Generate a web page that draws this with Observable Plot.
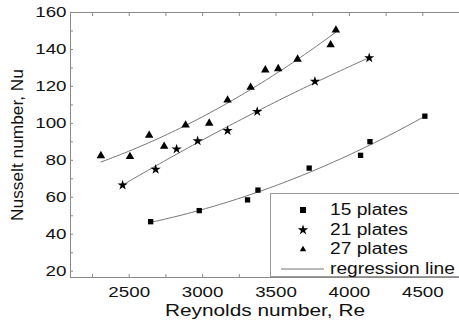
<!DOCTYPE html>
<html><head><meta charset="utf-8">
<script src="https://cdn.jsdelivr.net/npm/d3@7"></script>
<script src="https://cdn.jsdelivr.net/npm/@observablehq/plot@0.6"></script>
<style>
body{margin:0;background:#fff;font-family:"Liberation Sans",Arial,sans-serif;}
#wrap{position:relative;width:459px;height:320px;overflow:hidden;}
#legend{position:absolute;left:270px;top:193px;width:200px;height:84px;border:1px solid #999;background:#fff;box-sizing:border-box;font-size:16px;color:#111;}
#legend .row{position:absolute;left:0;height:20px;line-height:20px;transform:scaleX(1.2);transform-origin:0 50%;white-space:nowrap;}
#legend svg{position:absolute;}
</style></head>
<body><div id="wrap"></div>
<script>
// Data
const re15 = [2646, 2977, 3306, 3377, 3726, 4076, 4140, 4514];
const nu15 = [46.8, 52.8, 58.6, 63.9, 75.8, 82.7, 90.1, 103.9];
const re21 = [2455, 2680, 2823, 2966, 3170, 3372, 3765, 4135];
const nu21 = [66.6, 75.1, 86.1, 90.5, 96.1, 106.4, 122.7, 135.4];
const re27 = [2307, 2505, 2636, 2738, 2884, 3045, 3170, 3327, 3427, 3515, 3647, 3872, 3908];
const nu27 = [82.5, 82.0, 93.5, 87.6, 99.1, 100.1, 112.6, 119.5, 128.9, 129.6, 134.7, 142.5, 150.5];
const seriesNames = ["15 plates", "21 plates", "27 plates"];
const xTicks = [2500, 3000, 3500, 4000, 4500];
const yTicks = [20, 40, 60, 80, 100, 120, 140, 160];

const symbols = {"15 plates": "square", "21 plates": "star", "27 plates": "triangle"};
const sizes = {"15 plates": 4, "21 plates": 4.6, "27 plates": 4.4};
const raw = [[re15, nu15], [re21, nu21], [re27, nu27]];
const points = raw.flatMap(([xs, ys], i) => xs.map((x, j) => ({series: seriesNames[i], re: x, nu: ys[j]})));

// quadratic least-squares regression of each series
function quadFit(xs, ys) {
  const m = d3.mean(xs), s = 1000;
  const u = xs.map(x => (x - m) / s);
  const S = k => d3.sum(u, v => v ** k);
  const T = k => d3.sum(u, (v, i) => v ** k * ys[i]);
  const A = [[S(0), S(1), S(2), T(0)], [S(1), S(2), S(3), T(1)], [S(2), S(3), S(4), T(2)]];
  for (let i = 0; i < 3; i++) {
    for (let r = i + 1; r < 3; r++) {
      const f = A[r][i] / A[i][i];
      for (let c = i; c < 4; c++) A[r][c] -= f * A[i][c];
    }
  }
  const b = [0, 0, 0];
  for (let i = 2; i >= 0; i--) {
    let v = A[i][3];
    for (let c = i + 1; c < 3; c++) v -= A[i][c] * b[c];
    b[i] = v / A[i][i];
  }
  const [x0, x1] = d3.extent(xs);
  return d3.range(0, 61).map(k => {
    const x = x0 + (x1 - x0) * k / 60, t = (x - m) / s;
    return {re: x, nu: b[0] + b[1] * t + b[2] * t * t};
  });
}
const fits = raw.flatMap(([xs, ys], i) => quadFit(xs, ys).map(d => ({...d, series: seriesNames[i]})));

const frameColor = "#8a8a8a";
const chart = Plot.plot({
  width: 459, height: 320,
  marginLeft: 70, marginTop: 12, marginBottom: 43, marginRight: 0,
  style: {fontFamily: "'Liberation Sans', Arial, sans-serif", color: "#111", background: "#fff"},
  x: {domain: [2100, 4750]},
  y: {domain: [16.6, 160]},
  marks: [
    Plot.line(fits, {x: "re", y: "nu", z: "series", stroke: "#777", strokeWidth: 1}),
    Plot.dot(points, {x: "re", y: "nu", symbol: d => symbols[d.series], r: d => sizes[d.series], fill: "#000", stroke: "none"}),
    // frame lines
    Plot.ruleX([2100], {stroke: frameColor}),
    Plot.ruleY([16.6], {stroke: frameColor}),
    Plot.ruleY([160], {stroke: frameColor}),
    // x ticks (inward) bottom & top
    Plot.axisX({ticks: d3.range(2250, 4751, 250), tickSize: -3, stroke: frameColor, text: null, anchor: "bottom", label: null}),
    Plot.axisX({ticks: d3.range(2250, 4751, 250), tickSize: -3, stroke: frameColor, text: null, anchor: "top", label: null}),
    Plot.axisX({ticks: xTicks, tickSize: 0, tickPadding: 9, fontSize: 15, anchor: "bottom", label: "Reynolds number, Re", labelArrow: "none", labelAnchor: "center", labelOffset: 38, tickFormat: d => String(d)}),
    // y ticks
    Plot.axisY({ticks: d3.range(20, 161, 10), tickSize: -3, stroke: frameColor, text: null, anchor: "left", label: null}),
    Plot.axisY({ticks: yTicks, tickSize: 0, tickPadding: 4, fontSize: 15, anchor: "left", label: "Nusselt number, Nu", labelArrow: "none", labelAnchor: "center", labelOffset: 59, tickFormat: d => String(d)})
  ]
});
const wrap = document.getElementById("wrap");
wrap.appendChild(chart);

// the reference's lettering is drawn wider than usual: stretch glyphs horizontally
chart.querySelectorAll("text").forEach(t => {
  const lbl = t.closest("[aria-label]")?.getAttribute("aria-label") || "";
  if (lbl === "x-axis label" || lbl === "y-axis label") t.style.fontSize = "16px";
  const len = t.getComputedTextLength();
  let f = 1.25;
  if (lbl === "x-axis label") f = 1.3;
  if (lbl === "y-axis label") f = 1.08;
  t.setAttribute("textLength", (len * f).toFixed(1));
  t.setAttribute("lengthAdjust", "spacingAndGlyphs");
});

// legend box
const lg = document.createElement("div");
lg.id = "legend";
const sym = {
  "15 plates": '<rect x="3" y="3" width="6" height="6" fill="#000"/>',
  "21 plates": '<path d="' + d3.symbol(d3.symbolStar, 34)() + '" transform="translate(6,6)" fill="#000"/>',
  "27 plates": '<path d="' + d3.symbol(d3.symbolTriangle2, 30)() + '" transform="translate(6,6.5)" fill="#000"/>'
};
let html = "";
seriesNames.forEach((n, i) => {
  const top = 6 + i * 19.5;
  html += `<svg style="left:26px;top:${top + 4}px" width="12" height="12">${sym[n]}</svg>`;
  html += `<div class="row" style="left:59px;top:${top}px">${n}</div>`;
});
html += `<svg style="left:10px;top:${6 + 3 * 19.5 + 4}px" width="44" height="12"><line x1="0" x2="43" y1="6" y2="6" stroke="#777"/></svg>`;
html += `<div class="row" style="left:59px;top:${6 + 3 * 19.5}px">regression line</div>`;
lg.innerHTML = html;
wrap.appendChild(lg);
</script></body></html>
